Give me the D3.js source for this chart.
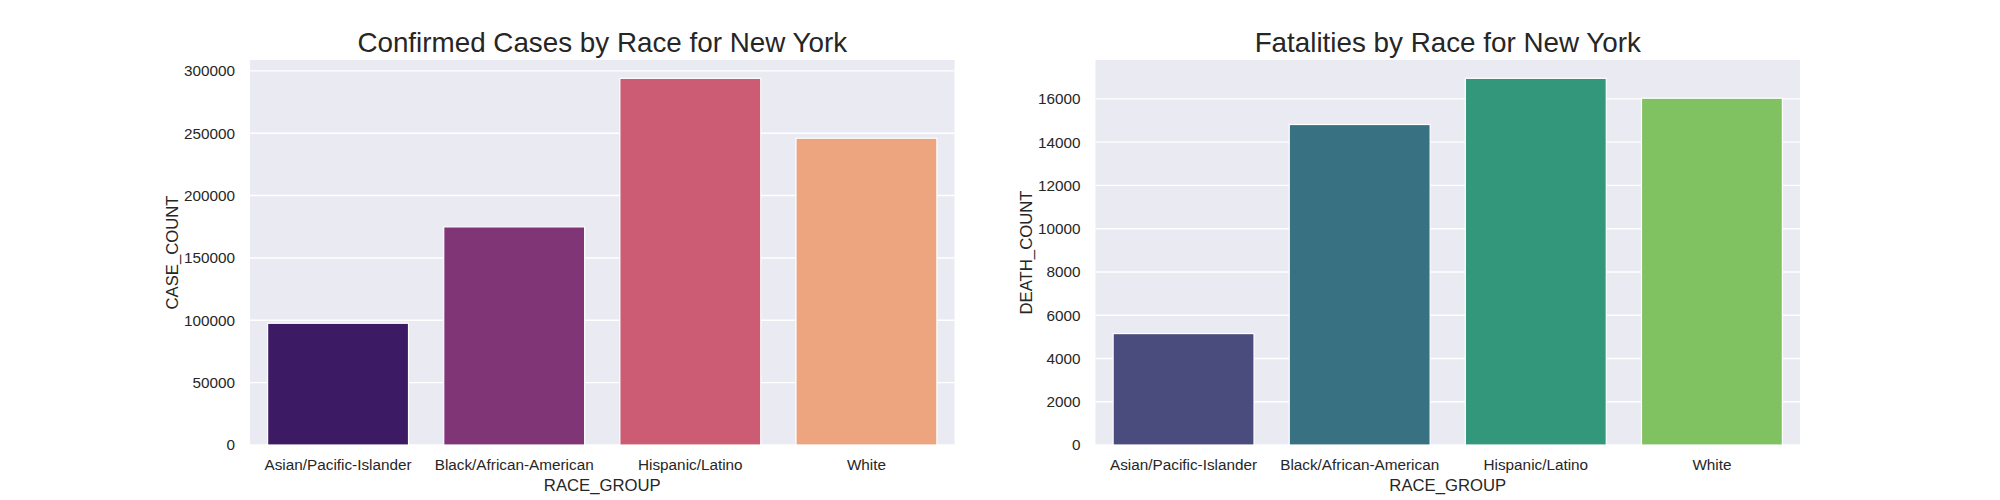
<!DOCTYPE html>
<html>
<head>
<meta charset="utf-8">
<script src="https://cdn.jsdelivr.net/npm/d3@7"></script>
<style>
  html, body { margin: 0; padding: 0; background: #ffffff; }
  svg { display: block; }
  text { font-family: "Liberation Sans", Arial, sans-serif; fill: #262626; }
</style>
</head>
<body>
<script>
// ---- data ----
const categories = ["Asian/Pacific-Islander", "Black/African-American", "Hispanic/Latino", "White"];
const caseCounts = [97600, 174900, 294000, 246000];
const deathCounts = [5150, 14815, 16950, 16030];
const caseTicks = [0, 50000, 100000, 150000, 200000, 250000, 300000];
const deathTicks = [0, 2000, 4000, 6000, 8000, 10000, 12000, 14000, 16000];
const magmaStops = [0.2, 0.4, 0.6, 0.8];
const viridisStops = [0.2, 0.4, 0.6, 0.8];

const W = 2000, H = 500;
const svg = d3.select("body").append("svg").attr("width", W).attr("height", H);

function desat(c, p) {
  const h = d3.hsl(c);
  h.s *= p;
  return h.formatHex();
}

function panel(opts) {
  const { x0, x1, y0, y1, values, ticks, title, ylabel, interp, stops } = opts;
  const g = svg.append("g");
  const x = d3.scaleBand().domain(categories).range([x0, x1]).paddingInner(0.2).paddingOuter(0.1);
  const ymax = d3.max(values) * 1.05;
  const y = d3.scaleLinear().domain([0, ymax]).range([y1, y0]);

  g.append("rect").attr("x", x0).attr("y", y0).attr("width", x1 - x0).attr("height", y1 - y0).attr("fill", "#EAEAF2");

  g.append("g").selectAll("line").data(ticks).join("line")
    .attr("x1", x0).attr("x2", x1)
    .attr("y1", d => y(d)).attr("y2", d => y(d))
    .attr("stroke", "#ffffff").attr("stroke-width", 1.4);

  g.append("g").selectAll("rect").data(values).join("rect")
    .attr("x", (d, i) => x(categories[i]))
    .attr("width", x.bandwidth())
    .attr("y", d => y(d))
    .attr("height", d => y(0) - y(d))
    .attr("fill", (d, i) => desat(interp(stops[i]), 0.75))
    .attr("stroke", "#ffffff").attr("stroke-width", 1.2);

  // y axis
  const ya = d3.axisLeft(y).tickValues(ticks).tickSize(0).tickPadding(15).tickFormat(d3.format("d"));
  const yg = g.append("g").attr("transform", `translate(${x0},0)`).call(ya);
  yg.select(".domain").remove();
  yg.selectAll("text").attr("font-size", "15.3px").attr("fill", "#262626")
    .attr("font-family", "Liberation Sans, Arial, sans-serif");

  // x axis
  const xa = d3.axisBottom(x).tickSize(0).tickPadding(14);
  const xg = g.append("g").attr("transform", `translate(0,${y1})`).call(xa);
  xg.select(".domain").remove();
  xg.selectAll("text").attr("font-size", "15.3px").attr("fill", "#262626")
    .attr("font-family", "Liberation Sans, Arial, sans-serif");

  // title
  g.append("text").attr("x", (x0 + x1) / 2).attr("y", 52).attr("text-anchor", "middle")
    .attr("font-size", "27.8px").text(title);

  // x label
  g.append("text").attr("x", (x0 + x1) / 2).attr("y", 491).attr("text-anchor", "middle")
    .attr("font-size", "16.7px").text("RACE_GROUP");

  // y label
  g.append("text").attr("transform", `translate(${opts.ylabX},${(y0 + y1) / 2}) rotate(-90)`)
    .attr("text-anchor", "middle").attr("font-size", "16.7px").text(ylabel);
}

panel({ x0: 250, x1: 954.5, y0: 60, y1: 445, values: caseCounts, ticks: caseTicks,
  title: "Confirmed Cases by Race for New York", ylabel: "CASE_COUNT", interp: d3.interpolateMagma, stops: magmaStops, ylabX: 178 });
panel({ x0: 1095.5, x1: 1800, y0: 60, y1: 445, values: deathCounts, ticks: deathTicks,
  title: "Fatalities by Race for New York", ylabel: "DEATH_COUNT", interp: d3.interpolateViridis, stops: viridisStops, ylabX: 1032 });
</script>
</body>
</html>
